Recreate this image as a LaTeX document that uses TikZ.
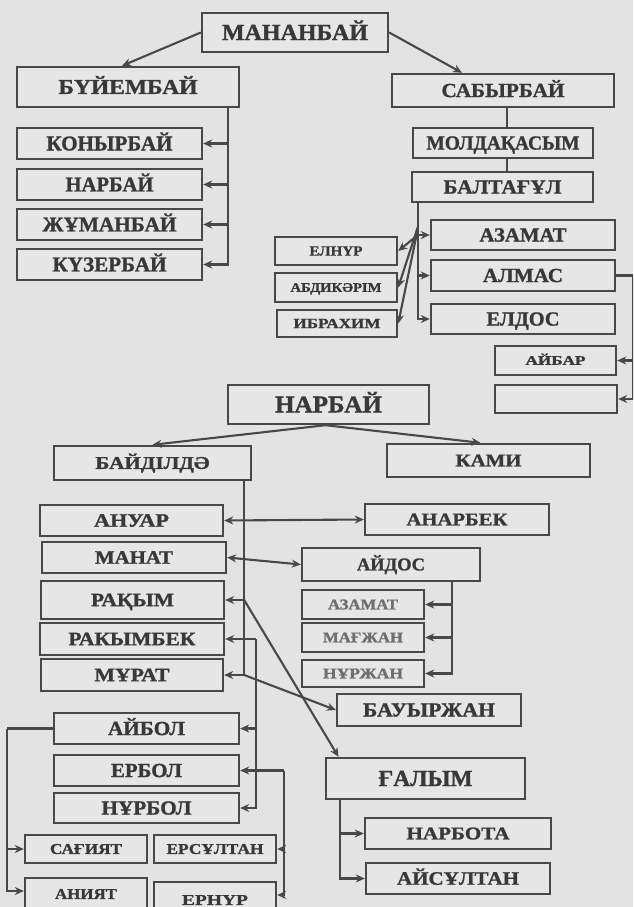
\documentclass[tikz,border=0pt]{standalone}
\usepackage{fontspec}
\setmainfont{Liberation Serif}[BoldFeatures={FakeBold=1.2}]
\usepackage{graphicx}
\usetikzlibrary{arrows.meta,calc}
\definecolor{bgc}{HTML}{E3E3E3}
\definecolor{boxc}{HTML}{E6E6E6}
\definecolor{linec}{HTML}{484848}
\definecolor{txtc}{HTML}{383838}
\definecolor{blurc}{HTML}{6E6E6E}
\newcommand{\tx}[3]{{\fontsize{#2}{#2}\selectfont\smash{\resizebox{#1pt}{\height}{#3}}\vphantom{H}}}
\tikzset{
  box/.style={draw=linec, line width=2.4pt, fill=boxc, inner sep=0pt, text=txtc, font=\bfseries},
  conn/.style={draw=linec, line width=2.1pt},
  arr/.style={conn, -{Stealth[length=9pt,width=8pt]}},
  arrb/.style={conn, {Stealth[length=9pt,width=8pt]}-{Stealth[length=9pt,width=8pt]}},
}
\begin{document}
\begin{tikzpicture}[x=1pt,y=-1pt]
\fill[bgc] (0,0) rectangle (633,907);
\useasboundingbox (0,0) rectangle (633,907);
\clip (0,0) rectangle (633,907);
% upper tree
\node[box, minimum width=186pt, minimum height=39pt] (mananbay) at (295,32.5) {\tx{146}{23}{МАНАНБАЙ}};
\node[box, minimum width=222pt, minimum height=40pt] (buyembay) at (128,87) {\tx{139}{21}{БҮЙЕМБАЙ}};
\node[box, minimum width=185pt, minimum height=31pt] (konyrbay) at (109.5,143.5) {\tx{126}{21}{КОНЫРБАЙ}};
\node[box, minimum width=185pt, minimum height=31pt] (narbayA) at (109.5,184.5) {\tx{88}{21}{НАРБАЙ}};
\node[box, minimum width=185pt, minimum height=31pt] (zhumanbay) at (109.5,224.5) {\tx{134}{21}{ЖҰМАНБАЙ}};
\node[box, minimum width=185pt, minimum height=31pt] (kuzerbay) at (109.5,264.5) {\tx{114}{21}{КҮЗЕРБАЙ}};
\node[box, minimum width=222pt, minimum height=33pt] (sabyrbay) at (503,90.5) {\tx{123}{20}{САБЫРБАЙ}};
\node[box, minimum width=180pt, minimum height=30pt] (moldakasym) at (503,143) {\tx{153}{20}{МОЛДАҚАСЫМ}};
\node[box, minimum width=181pt, minimum height=30pt] (baltagul) at (502.5,187) {\tx{118}{20}{БАЛТАҒҰЛ}};
\node[box, minimum width=184pt, minimum height=30pt] (azamatA) at (523,235) {\tx{87}{20}{АЗАМАТ}};
\node[box, minimum width=184pt, minimum height=31pt] (almas) at (523,275.5) {\tx{80}{20}{АЛМАС}};
\node[box, minimum width=184pt, minimum height=30pt] (eldos) at (523,319) {\tx{73}{20}{ЕЛДОС}};
\node[box, minimum width=122pt, minimum height=28pt] (elnur) at (336,251) {\tx{53}{14}{ЕЛНҮР}};
\node[box, minimum width=122pt, minimum height=29pt] (abdikarim) at (336,287.5) {\tx{91}{13}{АБДИКӘРІМ}};
\node[box, minimum width=120pt, minimum height=27pt] (ibrahim) at (337,323.5) {\tx{87}{14}{ИБРАХИМ}};
\node[box, minimum width=121pt, minimum height=29pt] (aybar) at (555.5,360.5) {\tx{60}{13}{АЙБАР}};
\node[box, minimum width=122pt, minimum height=28pt] (emptybox) at (556,399) {};
% upper connectors
\draw[arr] (mananbay.west) -- ([xshift=-6pt]buyembay.north);
\draw[arr] (mananbay.east) -- ([xshift=-41pt]sabyrbay.north);
\coordinate (t1) at ([xshift=-12pt]buyembay.south east);
\draw[arr] (t1) |- (kuzerbay.east);
\draw[arr] (t1 |- konyrbay.east) -- (konyrbay.east);
\draw[arr] (t1 |- narbayA.east) -- (narbayA.east);
\draw[arr] (t1 |- zhumanbay.east) -- (zhumanbay.east);
\draw[conn] ([xshift=4pt]sabyrbay.south) -- ([xshift=4pt]sabyrbay.south |- moldakasym.north);
\draw[conn] ([xshift=4pt]sabyrbay.south |- moldakasym.south) -- ([xshift=4pt]sabyrbay.south |- baltagul.north);
\coordinate (t2) at ([xshift=7pt]baltagul.south west);
\draw[arr] (t2) |- (eldos.west);
\draw[arr] (t2 |- azamatA.west) -- (azamatA.west);
\draw[arr] (t2 |- almas.west) -- (almas.west);
\coordinate (j1) at (t2 |- azamatA.west);
\draw[arr] (j1) -- (elnur.east);
\draw[arr] ([yshift=8pt]j1) -- (abdikarim.east);
\draw[arr] ([yshift=6pt]j1) -- (ibrahim.east);
\coordinate (t3) at ([xshift=17pt]almas.east);
\draw[conn] (almas.east) -- (t3);
\draw[arr] (t3) |- (emptybox.east);
\draw[arr] (t3 |- aybar.east) -- (aybar.east);
% lower tree
\node[box, minimum width=201pt, minimum height=39pt] (narbayB) at (328.5,404.5) {\tx{107}{24}{НАРБАЙ}};
\node[box, minimum width=197pt, minimum height=34pt] (baydilda) at (152.5,463) {\tx{114}{18}{БАЙДІЛДӘ}};
\node[box, minimum width=203pt, minimum height=33pt] (kami) at (488.5,460.5) {\tx{66}{18}{КАМИ}};
\node[box, minimum width=183pt, minimum height=31pt] (anuar) at (131.5,520.5) {\tx{75}{19}{АНУАР}};
\node[box, minimum width=184pt, minimum height=31pt] (anarbek) at (457,519.5) {\tx{101}{18}{АНАРБЕК}};
\node[box, minimum width=184pt, minimum height=31pt] (manat) at (134,557.5) {\tx{78}{19}{МАНАТ}};
\node[box, minimum width=178pt, minimum height=33pt] (aydos) at (391,564.5) {\tx{68}{18}{АЙДОС}};
\node[box, minimum width=183pt, minimum height=38pt] (rakym) at (132.5,600) {\tx{83}{19}{РАҚЫМ}};
\node[box, minimum width=122pt, minimum height=29pt, text=blurc] (azamatB) at (363,604.5) {\tx{70}{15}{АЗАМАТ}};
\node[box, minimum width=122pt, minimum height=29pt, text=blurc] (magzhan) at (363,637.5) {\tx{80}{15}{МАҒЖАН}};
\node[box, minimum width=122pt, minimum height=27pt, text=blurc] (nurzhan) at (363,673.5) {\tx{80}{15}{НҰРЖАН}};
\node[box, minimum width=184pt, minimum height=32pt] (rakymbek) at (132,639) {\tx{127}{19}{РАКЫМБЕК}};
\node[box, minimum width=182pt, minimum height=32pt] (murat) at (132,675) {\tx{75}{19}{МҰРАТ}};
\node[box, minimum width=184pt, minimum height=32pt] (bauyrzhan) at (429,710) {\tx{132}{20}{БАУЫРЖАН}};
\node[box, minimum width=185pt, minimum height=31pt] (aybol) at (146.5,728.5) {\tx{77}{20}{АЙБОЛ}};
\node[box, minimum width=185pt, minimum height=31pt] (erbol) at (146.5,770.5) {\tx{71}{20}{ЕРБОЛ}};
\node[box, minimum width=185pt, minimum height=30pt] (nurbol) at (146.5,808) {\tx{90}{20}{НҰРБОЛ}};
\node[box, minimum width=199pt, minimum height=41pt] (galym) at (425.5,778.5) {\tx{94}{23}{ҒАЛЫМ}};
\node[box, minimum width=186pt, minimum height=31pt] (narbota) at (458,833.5) {\tx{103}{18}{НАРБОТА}};
\node[box, minimum width=184pt, minimum height=31pt] (aysultan) at (458,878.5) {\tx{122}{19}{АЙСҰЛТАН}};
\node[box, minimum width=122pt, minimum height=28pt] (sagiyat) at (86,849) {\tx{72}{15}{САҒИЯТ}};
\node[box, minimum width=122pt, minimum height=28pt] (ersultan) at (215,849) {\tx{97}{15}{ЕРСҰЛТАН}};
\node[box, minimum width=122pt, minimum height=32pt] (aniyat) at (86,894) {\tx{62}{15}{АНИЯТ}};
\node[box, minimum width=122pt, minimum height=36pt] (ernur) at (215,900) {\tx{66}{15}{ЕРНҮР}};
% lower connectors
\coordinate (n2) at ([xshift=-3pt]narbayB.south);
\draw[arr] (n2) -- (baydilda.north);
\draw[arr] (n2) -- ([xshift=-8pt]kami.north);
\coordinate (t4) at ([xshift=-8pt]baydilda.south east);
\draw[arr] (t4) |- (murat.east);
\draw[arr] (t4 |- rakym.east) -- (rakym.east);
\draw[arrb] (anuar.east) -- (anarbek.west);
\draw[arrb] (manat.east) -- (aydos.west);
\draw[arr] (t4 |- rakym.east) -- ([xshift=-87pt]galym.north);
\draw[arr] (t4 |- murat.east) -- (bauyrzhan.west);
\coordinate (t5) at ([xshift=31pt]rakymbek.east);
\draw[arr] (t5) -- (rakymbek.east);
\draw[arr] (t5) |- (nurbol.east);
\draw[arr] (t5 |- aybol.east) -- (aybol.east);
\coordinate (t6) at ([xshift=-29pt]aydos.south east);
\draw[arr] (t6) |- (nurzhan.east);
\draw[arr] (t6 |- azamatB.east) -- (azamatB.east);
\draw[arr] (t6 |- magzhan.east) -- (magzhan.east);
\coordinate (t7) at ([xshift=15pt]galym.south west);
\draw[arr] (t7) |- (aysultan.west);
\draw[arr] (t7 |- narbota.west) -- (narbota.west);
\coordinate (t8) at ([xshift=-46pt]aybol.west);
\draw[conn] (aybol.west) -- (t8);
\draw[arr] (t8) |- ([yshift=3pt]aniyat.west);
\draw[arr] (t8 |- sagiyat.west) -- (sagiyat.west);
\coordinate (t9) at ([xshift=44pt]erbol.east);
\draw[arr] (t9) -- (erbol.east);
\draw[arr] (t9) |- ([yshift=5pt]ernur.east);
\draw[arr] (t9 |- ersultan.east) -- (ersultan.east);
\end{tikzpicture}
\end{document}
